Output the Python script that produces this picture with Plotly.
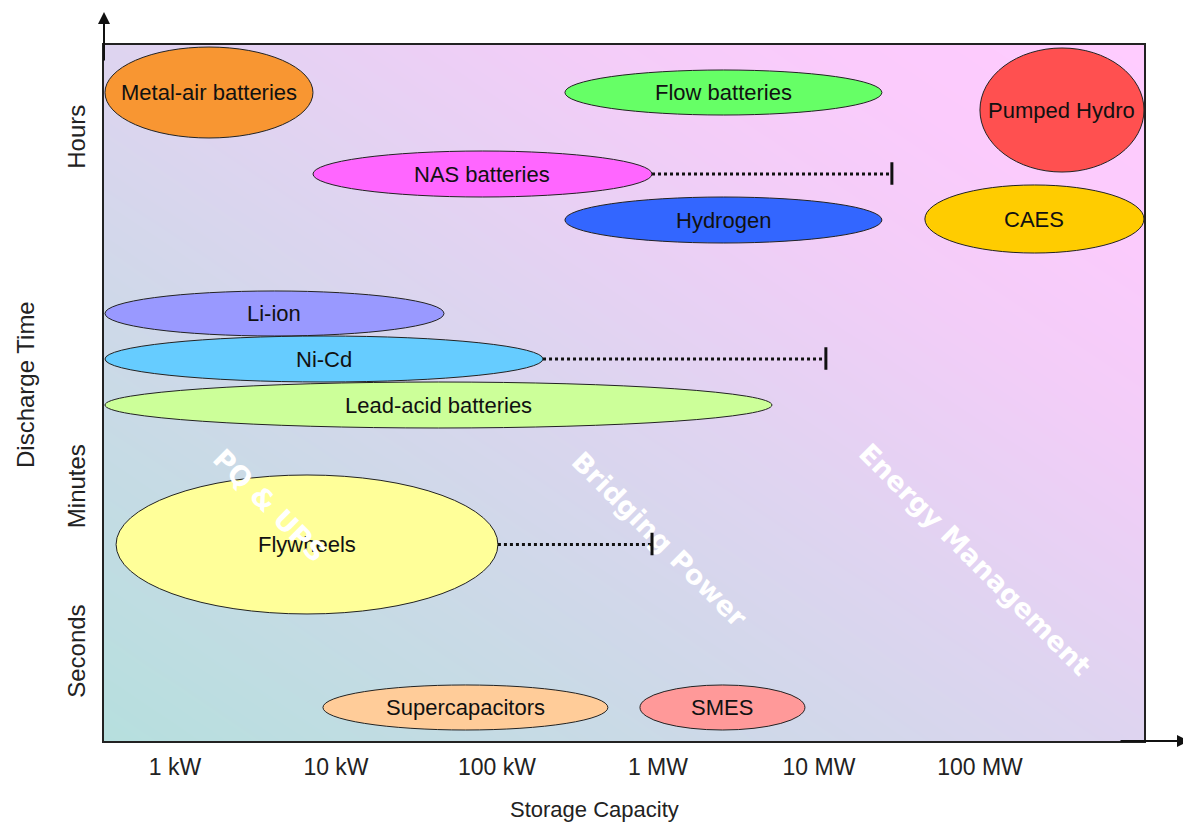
import numpy as np
import plotly.graph_objects as go

# ---------------- data ----------------
# x: storage capacity as log10(kW); y: discharge time on a relative scale (0..10)
technologies = ["Metal-air batteries", "Flow batteries", "Pumped Hydro", "NAS batteries",
                "Hydrogen", "CAES", "Li-ion", "Ni-Cd", "Lead-acid batteries",
                "Flywheels", "Supercapacitors", "SMES"]
cap_min = [-0.435, 2.422, 5.000, 0.857, 2.422, 4.658, -0.435, -0.435, -0.435, -0.366, 0.919, 2.888]
cap_max = [0.857, 4.391, 6.019, 2.963, 4.391, 6.019, 1.671, 2.286, 3.708, 2.006, 2.689, 3.913]
time_min = [8.664, 8.994, 8.175, 7.816, 7.155, 7.011, 5.819, 5.158, 4.497, 1.825, 0.158, 0.158]
time_max = [9.971, 9.641, 9.957, 8.477, 7.816, 7.989, 6.466, 5.819, 5.158, 3.822, 0.805, 0.805]

# extended capacity ranges (dotted lines)
ext_names = ["NAS batteries", "Ni-Cd", "Flywheels"]
ext_to = [4.453, 4.043, 2.963]

cap_ticks = [0, 1, 2, 3, 4, 5]
cap_labels = ["1 kW", "10 kW", "100 kW", "1 MW", "10 MW", "100 MW"]
time_ticks = [1.24, 3.61, 8.63]
time_labels = ["Seconds", "Minutes", "Hours"]

regions = ["PQ & UPS", "Bridging Power", "Energy Management"]
region_x = [0.59, 3.01, 4.97]
region_y = [3.39, 2.89, 2.61]

# ---------------- styles ----------------
FILL = {
    "Metal-air batteries": "#F89632", "Flow batteries": "#66FF66", "Pumped Hydro": "#FF5050",
    "NAS batteries": "#FF66FF", "Hydrogen": "#3366FF", "CAES": "#FFCC00",
    "Li-ion": "#9999FF", "Ni-Cd": "#66CCFF", "Lead-acid batteries": "#CCFF99",
    "Flywheels": "#FFFF99", "Supercapacitors": "#FFCC99", "SMES": "#FF9999",
}
XR = [-0.441, 6.019]
YR = [0.0, 10.0]
FONT = "Liberation Sans, Arial, sans-serif"
PW, PH = 1040, 696  # plot area size in px

fig = go.Figure()

# gradient background
gx = np.linspace(XR[0], XR[1], 60)
gy = np.linspace(YR[0], YR[1], 40)
U, V = np.meshgrid((gx - XR[0]) / (XR[1] - XR[0]), (gy - YR[0]) / (YR[1] - YR[0]))
fig.add_trace(go.Heatmap(
    x=gx, y=gy, z=(U + V) / 2, zmin=0, zmax=1, zsmooth="best", showscale=False,
    hoverinfo="skip",
    colorscale=[[0, "#B6DFDE"], [0.25, "#C9DAE6"], [0.5, "#DED4F0"],
                [0.72, "#F3CDF8"], [0.85, "#FBCBFC"], [1, "#FFCCFF"]],
))

shapes = []
annotations = []
for name, x0, x1, y0, y1 in zip(technologies, cap_min, cap_max, time_min, time_max):
    shapes.append(dict(type="circle", xref="x", yref="y", x0=x0, x1=x1, y0=y0, y1=y1,
                       fillcolor=FILL[name], line=dict(color="#222222", width=1)))
    annotations.append(dict(x=(x0 + x1) / 2, y=(y0 + y1) / 2, xref="x", yref="y",
                            text=name, showarrow=False,
                            font=dict(family=FONT, size=22, color="#111111")))

ticks_ann = []
for name, xe in zip(ext_names, ext_to):
    i = technologies.index(name)
    yc = (time_min[i] + time_max[i]) / 2
    shapes.append(dict(type="line", xref="x", yref="y", x0=cap_max[i], x1=xe, y0=yc, y1=yc,
                       line=dict(color="#111111", width=3, dash="dot")))
    # end tick drawn as an annotation arrow so it sits above the white region labels
    ticks_ann.append(dict(x=xe, y=yc + 0.17, xref="x", yref="y", ax=0, ay=24,
                          axref="pixel", ayref="pixel", showarrow=True, arrowhead=0,
                          arrowwidth=3, arrowcolor="#111111", text="", standoff=0,
                          startstandoff=0))

for t, rx, ry in zip(regions, region_x, region_y):
    annotations.append(dict(x=rx, y=ry, xref="x", yref="y", text="<b>" + t + "</b>",
                            showarrow=False, textangle=45, xanchor="center", yanchor="middle",
                            font=dict(family="DejaVu Sans, sans-serif", size=27, color="white")))
annotations.extend(ticks_ann)

# axis arrows
annotations.append(dict(x=0, y=(741 - 12) / PH, xref="paper", yref="paper", ax=0, ay=50,
                        axref="pixel", ayref="pixel", showarrow=True, arrowhead=2,
                        arrowsize=1.2, arrowwidth=2, arrowcolor="#111111", text=""))
annotations.append(dict(x=(1189 - 104) / PW, y=0, xref="paper", yref="paper", ax=-70, ay=0,
                        axref="pixel", ayref="pixel", showarrow=True, arrowhead=2,
                        arrowsize=1.2, arrowwidth=2, arrowcolor="#111111", text=""))

# axis titles
annotations.append(dict(x=(594 - 104) / PW, y=(741 - 809) / PH, xref="paper", yref="paper",
                        text="Storage Capacity", showarrow=False,
                        xanchor="center", yanchor="middle",
                        font=dict(family=FONT, size=22, color="#222222")))
annotations.append(dict(x=(25 - 104) / PW, y=(741 - 385) / PH, xref="paper", yref="paper",
                        text="Discharge Time", textangle=-90, showarrow=False,
                        xanchor="center", yanchor="middle",
                        font=dict(family=FONT, size=24, color="#222222")))

# page body has an 8px margin: compensate so the plot lands where the reference has it
fig.update_layout(
    width=1183, height=815,
    margin=dict(l=96, r=47, t=37, b=82),
    paper_bgcolor="white", plot_bgcolor="white",
    showlegend=False,
    shapes=shapes, annotations=annotations,
    xaxis=dict(range=XR, tickvals=cap_ticks, ticktext=cap_labels, showgrid=False,
               zeroline=False, showline=True, linecolor="#222222", linewidth=2, mirror=True,
               ticks="", ticklabelstandoff=4,
               tickfont=dict(family=FONT, size=23, color="#222222")),
    yaxis=dict(range=YR, tickvals=time_ticks, ticktext=time_labels, showgrid=False,
               zeroline=False, showline=True, linecolor="#222222", linewidth=2, mirror=True,
               ticks="", tickangle=-90, ticklabelstandoff=7,
               tickfont=dict(family=FONT, size=24, color="#222222")),
)

fig.write_html("out.html")
